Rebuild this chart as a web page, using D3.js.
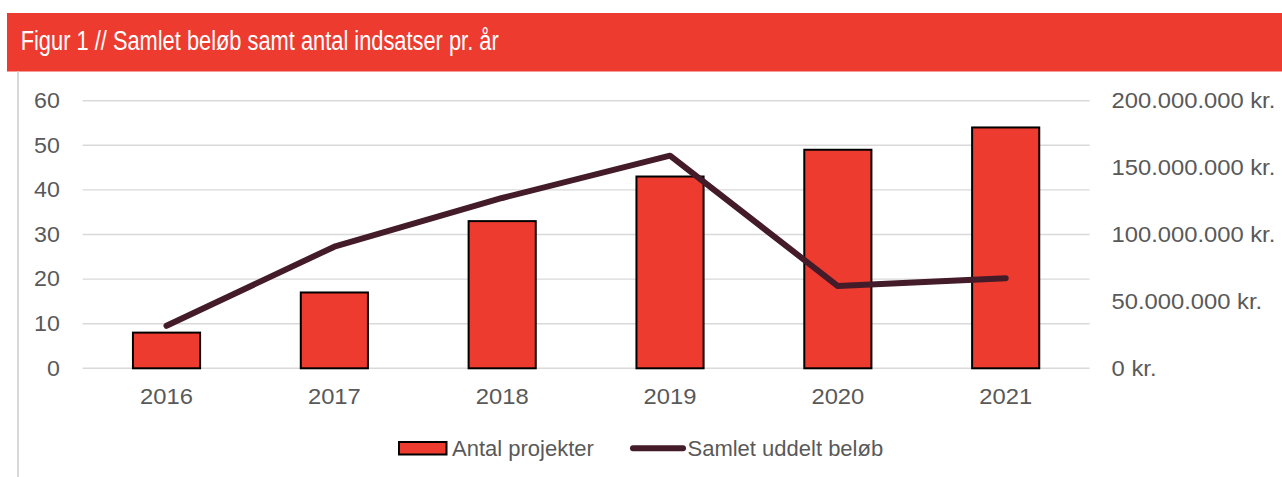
<!DOCTYPE html>
<html>
<head>
<meta charset="utf-8">
<script src="https://cdn.jsdelivr.net/npm/d3@7"></script>
<style>
  html, body { margin: 0; padding: 0; background: #ffffff; }
  svg { display: block; font-family: "Liberation Sans", Arial, sans-serif; }
</style>
</head>
<body>
<svg id="chart" width="1282" height="477"></svg>
<script>
// ---- data ----
const titleText = "Figur 1 // Samlet beløb samt antal indsatser pr. år";
const years = ["2016", "2017", "2018", "2019", "2020", "2021"];
const projects = [8, 17, 33, 43, 49, 54];
const amounts = [31800000, 90900000, 127300000, 158900000, 61500000, 67300000];
const leftTicks = [0, 10, 20, 30, 40, 50, 60];
const rightTicks = [0, 50000000, 100000000, 150000000, 200000000];
const seriesNames = ["Antal projekter", "Samlet uddelt beløb"];

// ---- layout ----
const W = 1282, H = 477;
const plot = { left: 82.6, right: 1089.6, top: 100.7, bottom: 368.3 };
const RED = "#EE3B2F", LINE = "#441B28", TXT = "#595959", GRID = "#D9D9D9";
const SX = 1.08;

const svg = d3.select("#chart");

// header band
svg.append("rect").attr("x", 7).attr("y", 13).attr("width", W - 7).attr("height", 58.5).attr("fill", RED);
svg.append("text").attr("x", 20.7).attr("y", 50)
  .attr("fill", "#ffffff").attr("font-size", 27)
  .attr("textLength", 478).attr("lengthAdjust", "spacingAndGlyphs")
  .text(titleText);

// left frame line
svg.append("line").attr("x1", 18).attr("x2", 18).attr("y1", 71.5).attr("y2", H)
  .attr("stroke", GRID).attr("stroke-width", 2);

// scales
const x = d3.scaleBand().domain(years).range([plot.left, plot.right]).paddingInner(0.6).paddingOuter(0.3);
const y = d3.scaleLinear().domain([0, 60]).range([plot.bottom, plot.top]);
const y2 = d3.scaleLinear().domain([0, 200000000]).range([plot.bottom, plot.top]);

const loc = d3.formatLocale({ decimal: ",", thousands: ".", grouping: [3], currency: ["", " kr."] });
const fmtKr = v => loc.format(",")(v) + " kr.";

// gridlines
svg.append("g").selectAll("line").data(leftTicks).join("line")
  .attr("x1", plot.left).attr("x2", plot.right)
  .attr("y1", d => y(d)).attr("y2", d => y(d))
  .attr("stroke", GRID).attr("stroke-width", 1.4);

// left axis
const gL = svg.append("g").attr("transform", `translate(${plot.left},0)`)
  .call(d3.axisLeft(y).tickValues(leftTicks).tickSize(0).tickPadding(21));
// right axis
const gR = svg.append("g").attr("transform", `translate(${plot.right},0)`)
  .call(d3.axisRight(y2).tickValues(rightTicks).tickSize(0).tickPadding(20.4).tickFormat(fmtKr));
// bottom axis
const gB = svg.append("g").attr("transform", `translate(0,${plot.bottom})`)
  .call(d3.axisBottom(x).tickSize(0).tickPadding(20));

[gL, gR, gB].forEach(g => {
  g.select(".domain").remove();
  g.selectAll("text")
    .attr("fill", TXT)
    .attr("font-size", 22)
    .attr("font-family", "'Liberation Sans', Arial, sans-serif")
    .attr("transform", `scale(${SX},1)`);
});
gL.selectAll("text").attr("font-size", 21.5);

// bars
svg.append("g").selectAll("rect").data(years).join("rect")
  .attr("x", d => x(d))
  .attr("width", x.bandwidth())
  .attr("y", (d, i) => y(projects[i]))
  .attr("height", (d, i) => y(0) - y(projects[i]))
  .attr("fill", RED).attr("stroke", "#000").attr("stroke-width", 2);

// line
const line = d3.line()
  .x((d, i) => x(years[i]) + x.bandwidth() / 2)
  .y(d => y2(d));
svg.append("path").datum(amounts)
  .attr("d", line)
  .attr("fill", "none").attr("stroke", LINE).attr("stroke-width", 6)
  .attr("stroke-linecap", "round").attr("stroke-linejoin", "round");

// legend
const lg = svg.append("g");
lg.append("rect").attr("x", 399).attr("y", 442).attr("width", 47.5).attr("height", 12.5)
  .attr("fill", RED).attr("stroke", "#000").attr("stroke-width", 2);
lg.append("text").attr("x", 452).attr("y", 455.5).attr("fill", TXT).attr("font-size", 22)
  .text(seriesNames[0]);
lg.append("line").attr("x1", 633).attr("x2", 683).attr("y1", 448.3).attr("y2", 448.3)
  .attr("stroke", LINE).attr("stroke-width", 6).attr("stroke-linecap", "round");
lg.append("text").attr("x", 687.5).attr("y", 455.5).attr("fill", TXT).attr("font-size", 22)
  .text(seriesNames[1]);
</script>
</body>
</html>
